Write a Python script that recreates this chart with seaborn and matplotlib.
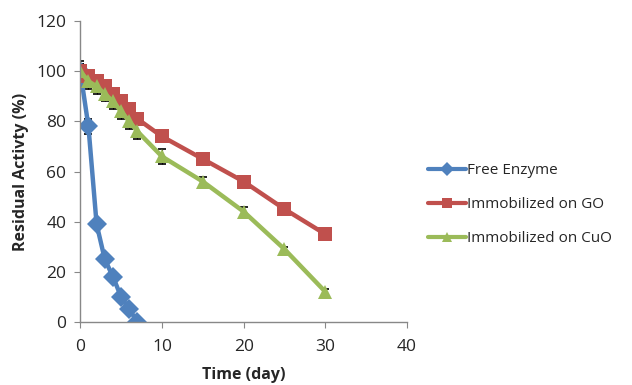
import numpy as np
import pandas as pd
import matplotlib
matplotlib.use("Agg")
import matplotlib.pyplot as plt
import seaborn as sns

sns.set_style("white")
plt.rcParams['font.family'] = ['Open Sans', 'DejaVu Sans']

free_days = [0, 1, 2, 3, 4, 5, 6, 7]
free_act = [100, 78, 39, 25, 18, 10, 5, 0]
free_err = [3, 3, 1, 1, 1, 1, 1, 1]

imm_days = [0, 1, 2, 3, 4, 5, 6, 7, 10, 15, 20, 25, 30]
go_act = [100, 98, 96, 94, 91, 88, 85, 81, 74, 65, 56, 45, 35]
go_err = [4, 2, 2, 2, 2, 2, 2, 2, 2, 2, 2, 2, 1]
cuo_act = [100, 96, 94, 91, 88, 84, 80, 76, 66, 56, 44, 29, 12]
cuo_err = [3, 3, 3, 3, 3, 3, 3, 3, 3, 2, 2, 1, 1]

labels = ["Free Enzyme", "Immobilized on GO", "Immobilized on CuO"]
colors = ["#4F81BD", "#C0504D", "#9BBB59"]
markers = ["D", "s", "^"]

df = pd.concat([
    pd.DataFrame({"day": free_days, "act": free_act, "err": free_err, "series": labels[0]}),
    pd.DataFrame({"day": imm_days, "act": go_act, "err": go_err, "series": labels[1]}),
    pd.DataFrame({"day": imm_days, "act": cuo_act, "err": cuo_err, "series": labels[2]}),
])

fig = plt.figure(figsize=(6.32, 3.85), dpi=100)
ax = fig.add_axes([0.127, 0.164, 0.517, 0.781])

for lab in labels:
    sub = df[df.series == lab]
    ax.errorbar(sub.day, sub.act, yerr=sub.err, fmt="none", ecolor="black",
                elinewidth=0.8, capsize=3, capthick=1.2, zorder=1)

sns.lineplot(data=df, x="day", y="act", hue="series", style="series",
             hue_order=labels, style_order=labels,
             palette=dict(zip(labels, colors)),
             markers=dict(zip(labels, markers)), dashes=False,
             linewidth=3.2, markersize=10, markeredgewidth=0,
             ax=ax, zorder=2, legend=True)

ax.set_xlim(0, 40)
ax.set_ylim(0, 120)
ax.set_xticks([0, 10, 20, 30, 40])
ax.set_yticks([0, 20, 40, 60, 80, 100, 120])
ax.set_xlabel("Time (day)", fontsize=11.5, fontweight="bold", labelpad=9)
ax.set_ylabel("Residual Activty (%)", fontsize=11.5, fontweight="bold", labelpad=5)
ax.tick_params(axis="both", labelsize=12.5, length=4, direction="out",
               color="#888888", bottom=True, left=True)
ax.tick_params(axis="x", pad=8)
ax.tick_params(axis="y", pad=6)
for s in ["top", "right"]:
    ax.spines[s].set_visible(False)
for s in ["left", "bottom"]:
    ax.spines[s].set_color("#888888")
    ax.spines[s].set_linewidth(1)

leg = ax.legend(loc="center left", bbox_to_anchor=(1.035, 0.39), frameon=False,
                fontsize=11, handlelength=2.5, handletextpad=0.1, labelspacing=1.25,
                borderaxespad=0.2)
for h in leg.legend_handles:
    h.set_markersize(7)
    h.set_linewidth(3)

fig.savefig("out.png", dpi=100)
